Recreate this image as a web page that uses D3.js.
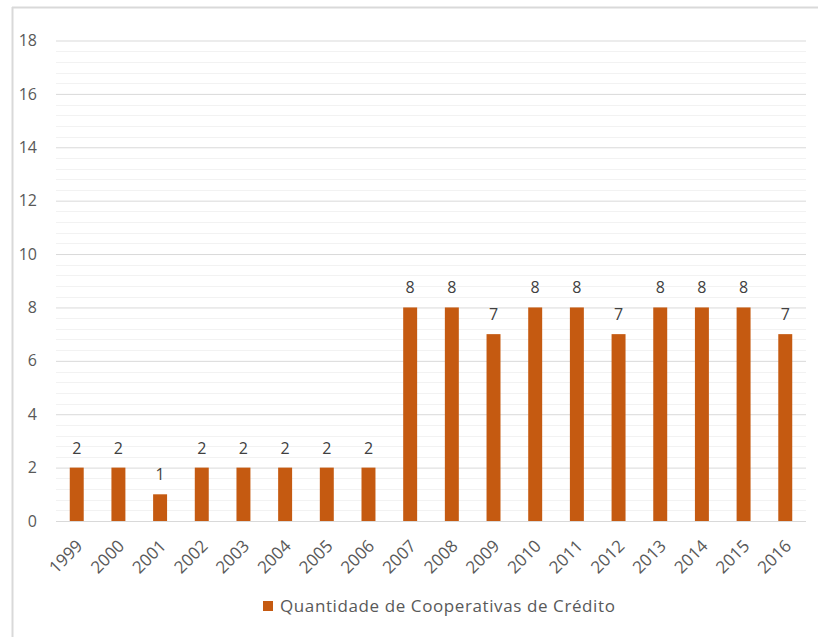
<!DOCTYPE html>
<html>
<head>
<meta charset="utf-8">
<script src="https://cdn.jsdelivr.net/npm/d3@7"></script>
<style>
  html, body { margin: 0; padding: 0; background: #fff; }
  svg { display: block; }
  text { font-family: "Open Sans", "Noto Sans", sans-serif; }
</style>
</head>
<body>
<svg id="chart" width="818" height="637"></svg>
<script>
// Quantidade de cooperativas de crédito por ano
const years = ["1999","2000","2001","2002","2003","2004","2005","2006","2007",
               "2008","2009","2010","2011","2012","2013","2014","2015","2016"];
const counts = [2, 2, 1, 2, 2, 2, 2, 2, 8, 8, 7, 8, 8, 7, 8, 8, 8, 7];
const yTicks = [0, 2, 4, 6, 8, 10, 12, 14, 16, 18];
const seriesName = "Quantidade de Cooperativas de Crédito";

const barColor = "#C55A11";
const svg = d3.select("#chart");

// chart frame (top and left edges)
svg.append("line").attr("x1", 12).attr("x2", 818).attr("y1", 7.5).attr("y2", 7.5)
  .attr("stroke", "#d9d9d9").attr("stroke-width", 2);
svg.append("line").attr("x1", 12.5).attr("x2", 12.5).attr("y1", 7).attr("y2", 637)
  .attr("stroke", "#d9d9d9").attr("stroke-width", 2);

const plot = { left: 56, right: 806, top: 40.5, bottom: 521 };

const x = d3.scaleBand().domain(years).range([plot.left, plot.right])
  .paddingInner(0.665).paddingOuter(0.33);
const y = d3.scaleLinear().domain([0, 18]).range([plot.bottom, plot.top]);

// minor gridlines every 0.4
const minor = d3.range(0, 18.001, 0.4).filter(v => Math.abs(v / 2 - Math.round(v / 2)) > 1e-6);
svg.append("g").selectAll("line").data(minor).join("line")
  .attr("x1", plot.left).attr("x2", plot.right)
  .attr("y1", d => Math.round(y(d)) + 0.5).attr("y2", d => Math.round(y(d)) + 0.5)
  .attr("stroke", "#f2f2f2").attr("stroke-width", 1);

// major gridlines and y labels via axis
const yAxis = d3.axisLeft(y).tickValues(yTicks).tickSize(-(plot.right - plot.left)).tickPadding(19)
  .tickFormat(d3.format("d"));
const gy = svg.append("g").attr("transform", `translate(${plot.left},0)`).call(yAxis);
gy.select(".domain").remove();
gy.selectAll(".tick line").attr("stroke", "#d9d9d9").attr("stroke-width", 1);
gy.selectAll(".tick text").attr("fill", "#595959").style("font-size", "16px")
  .style("font-family", "'Open Sans', sans-serif");

// bars
svg.append("g").selectAll("rect").data(years).join("rect")
  .attr("x", d => x(d))
  .attr("width", x.bandwidth())
  .attr("y", (d, i) => y(counts[i]))
  .attr("height", (d, i) => y(0) - y(counts[i]))
  .attr("fill", barColor);

// value labels
svg.append("g").selectAll("text").data(years).join("text")
  .attr("x", d => x(d) + x.bandwidth() / 2)
  .attr("y", (d, i) => y(counts[i]) - 14)
  .attr("text-anchor", "middle")
  .attr("fill", "#404040")
  .style("font-size", "16px")
  .text((d, i) => counts[i]);

// x axis labels rotated
const xAxis = d3.axisBottom(x).tickSize(0).tickPadding(0);
const gx = svg.append("g").attr("transform", `translate(0,${plot.bottom})`).call(xAxis);
gx.select(".domain").remove();
gx.selectAll(".tick text")
  .attr("fill", "#595959")
  .style("font-size", "17px")
  .style("font-family", "'Open Sans', sans-serif")
  .attr("text-anchor", "end")
  .attr("dy", null)
  .attr("transform", "translate(7,26) rotate(-45)");

// legend
const legend = svg.append("g").attr("transform", "translate(263,601)");
legend.append("rect").attr("width", 10).attr("height", 10).attr("fill", barColor);
legend.append("text").attr("x", 17).attr("y", 11)
  .attr("fill", "#595959").style("font-size", "17px").style("letter-spacing", "0.6px")
  .text(seriesName);
</script>
</body>
</html>
